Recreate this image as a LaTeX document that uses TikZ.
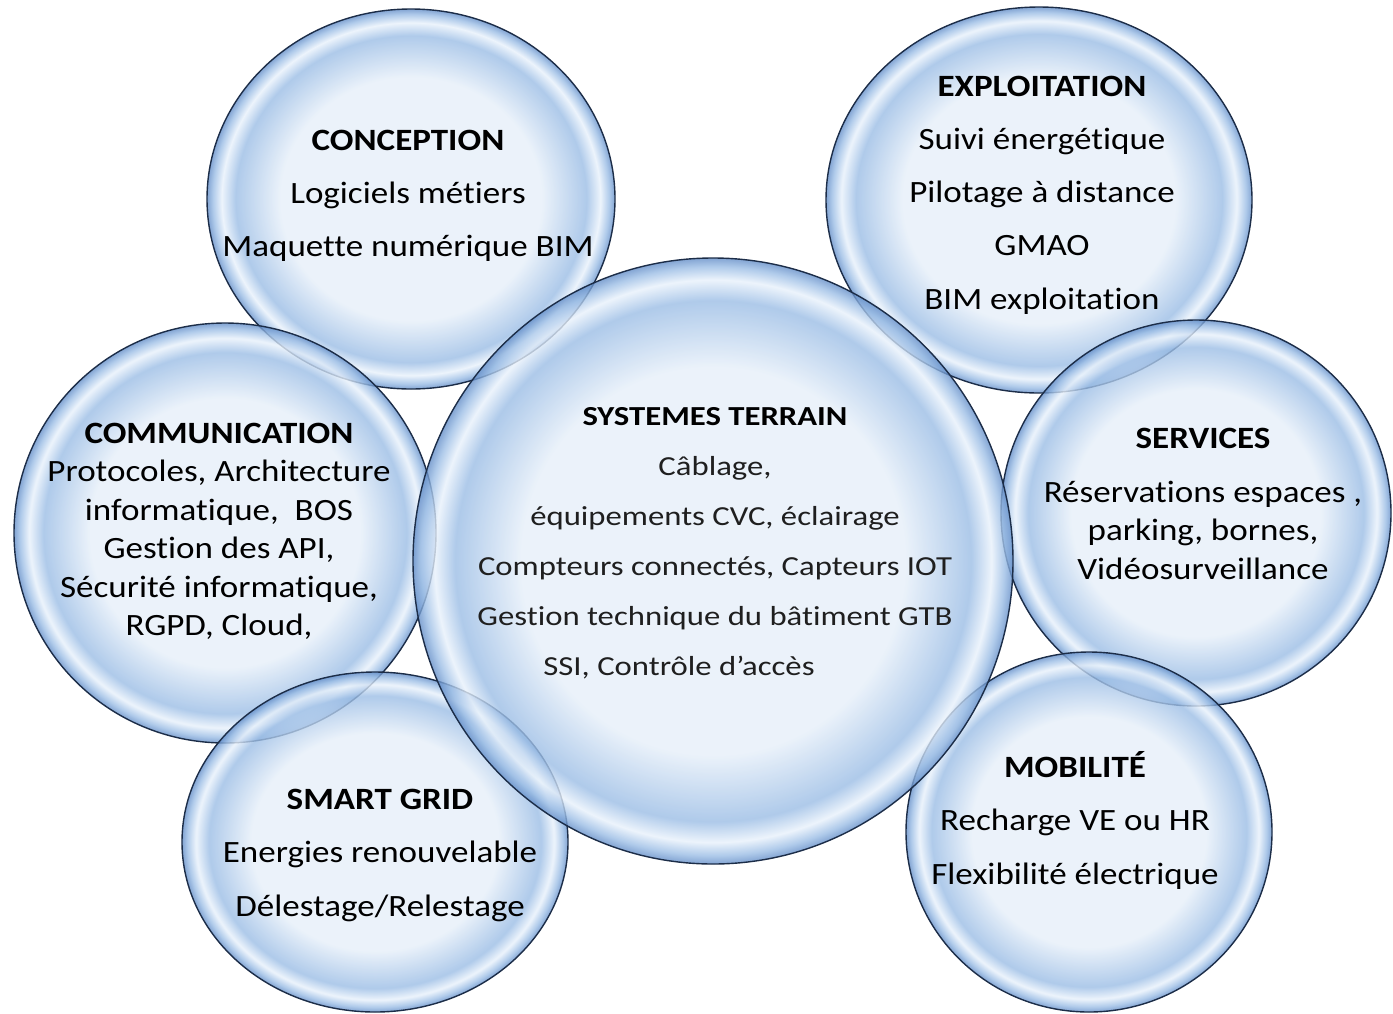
\documentclass[tikz,border=0pt]{standalone}
\usepackage{fontspec}
\setmainfont{Carlito}[FakeStretch=1.13, Ligatures=NoCommon]
\newfontfamily\sysfont{Carlito}[FakeStretch=1.19, Ligatures=NoCommon]
\usepackage{tikz}
\usetikzlibrary{shapes.geometric}
\definecolor{bubcore}{RGB}{230,239,249}
\definecolor{bubmid}{RGB}{155,189,229}
\definecolor{bubring}{RGB}{232,241,251}
\definecolor{bubedge}{RGB}{100,142,200}
\definecolor{bubline}{RGB}{28,45,72}
\pgfdeclareradialshading{bubble}{\pgfpoint{0bp}{0bp}}{%
    color(0bp)=(bubcore); color(16bp)=(bubcore); color(21.5bp)=(bubmid);
    color(23.2bp)=(bubring); color(24.3bp)=(bubmid); color(25bp)=(bubedge);
    color(50bp)=(bubedge)}

\begin{document}
\begin{tikzpicture}[
    x=1pt, y=-1pt,
    bubble/.style={
        ellipse, draw=bubline, line width=1.4pt, shade, shading=bubble,
        fill opacity=0.8, draw opacity=1, inner sep=0pt, outer sep=0pt
    },
    head/.style={anchor=base, font=\fontsize{31}{31}\selectfont\bfseries},
    item/.style={anchor=base, font=\fontsize{31}{31}\selectfont},
    syshead/.style={anchor=base, font=\sysfont\fontsize{27.5}{27.5}\selectfont\bfseries},
    sysitem/.style={anchor=base, font=\sysfont\fontsize{27.5}{27.5}\selectfont, text=black!88}
]
\useasboundingbox (0,0) rectangle (1393,1013);

% Outer bubbles
\node[bubble, minimum width=408pt, minimum height=380pt] (conc) at (411,199) {};
\node[bubble, minimum width=426pt, minimum height=386pt] (expl) at (1039,200) {};
\node[bubble, minimum width=422pt, minimum height=420pt] (comm) at (225,533) {};
\node[bubble, minimum width=390pt, minimum height=386pt] (serv) at (1196,513) {};
\node[bubble, minimum width=386pt, minimum height=340pt] (smart) at (375,842) {};
\node[bubble, minimum width=366pt, minimum height=360pt] (mob) at (1089,832) {};

% Central bubble
\node[bubble, minimum width=600pt, minimum height=606pt] (sys) at (713,561) {};

% Conception
\node[head] (conc-t) at (408,150) {CONCEPTION};
\foreach \tx [count=\i] in {Logiciels métiers, Maquette numérique BIM}
    \node[item] (conc-\i) at (408,{150+\i*53}) {\tx};

% Exploitation
\node[head] (expl-t) at (1042,96) {EXPLOITATION};
\foreach \tx [count=\i] in {Suivi énergétique, Pilotage à distance, GMAO, BIM exploitation}
    \node[item] (expl-\i) at (1042,{96+\i*53.3}) {\tx};

% Communication
\node[head] (comm-t) at (219,443) {COMMUNICATION};
\foreach \tx [count=\i] in {{Protocoles, Architecture}, {informatique,~ BOS}, {Gestion des API,},
        {Sécurité informatique,}, {RGPD, Cloud,}}
    \node[item] (comm-\i) at (219,{443+\i*38.5}) {\tx};

% Services
\node[head] (serv-t) at (1203,448) {SERVICES};
\foreach \tx [count=\i] in {{Réservations espaces~,}, {parking, bornes,}, Vidéosurveillance}
    \node[item] (serv-\i) at (1203,{463.5+\i*38.5}) {\tx};

% Smart grid
\node[head] (smart-t) at (380,809) {SMART GRID};
\foreach \tx [count=\i] in {Energies renouvelable, Délestage/Relestage}
    \node[item] (smart-\i) at (380,{809+\i*53.5}) {\tx};

% Mobilite
\node[head] (mob-t) at (1075,777) {MOBILITÉ};
\foreach \tx [count=\i] in {Recharge VE ou HR, Flexibilité électrique}
    \node[item] (mob-\i) at (1075,{777+\i*53.5}) {\tx};

% Systemes terrain
\node[syshead] (sys-t) at (715,425) {SYSTEMES TERRAIN};
\foreach \tx [count=\i] in {{Câblage,}, {équipements CVC, éclairage},
        {Compteurs connectés, Capteurs IOT}, Gestion technique du bâtiment GTB}
    \node[sysitem] (sys-\i) at (715,{425+\i*50}) {\tx};
\node[sysitem] (sys-5) at (679,675) {SSI, Contrôle d’accès};

\end{tikzpicture}
\end{document}
